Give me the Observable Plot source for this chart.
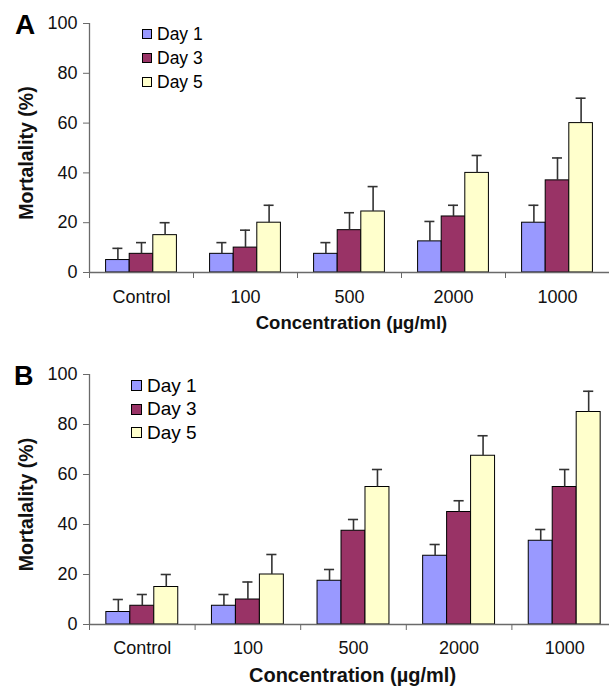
<!DOCTYPE html>
<html>
<head>
<meta charset="utf-8">
<script src="https://cdn.jsdelivr.net/npm/d3@7"></script>
<script src="https://cdn.jsdelivr.net/npm/@observablehq/plot@0.6"></script>
<style>
  body { margin: 0; background: #fff; font-family: "Liberation Sans", Arial, sans-serif; }
  .panel { position: relative; width: 609px; height: 343px; overflow: hidden; }
  .panel svg { position: absolute; left: 0; top: 0; }
  .letter { position: absolute; font-weight: bold; line-height: 1; color: #000; z-index: 2; }
  .legend { position: absolute; z-index: 2; color: #000; }
  .legend .row { display: flex; align-items: center; }
  .legend .sw { box-sizing: border-box; border: 1px solid #000; flex: none; }
</style>
</head>
<body>
<div class="panel" id="pa"></div>
<div class="panel" id="pb"></div>
<script>
// ---- data ----
const concentrations = ["Control", "100", "500", "2000", "1000"];
const days = ["Day 1", "Day 3", "Day 5"];
const dayColors = ["#9999FF", "#993366", "#FFFFCC"];
const yTicks = [0, 20, 40, 60, 80, 100];

// Panel A: mean mortality (%) and error (SD)
const aDay1 = [5, 7.5, 7.5, 12.5, 20];
const aDay3 = [7.5, 10, 17, 22.5, 37];
const aDay5 = [15, 20, 24.5, 40, 60];
const aErr1 = [4.7, 4.5, 4.5, 8, 7];
const aErr3 = [4.5, 7, 7, 4.5, 9];
const aErr5 = [5, 7, 10, 7, 10];

// Panel B
const bDay1 = [5, 7.5, 17.5, 27.5, 33.5];
const bDay3 = [7.5, 10, 37.5, 45, 55];
const bDay5 = [15, 20, 55, 67.5, 85];
const bErr1 = [5, 4.5, 4.5, 4.5, 4.5];
const bErr3 = [4.5, 7, 4.5, 4.5, 7];
const bErr5 = [5, 8, 7, 8, 8.3];

const yTitle = "Mortalality (%)";
const xTitle = "Concentration (\u00b5g/ml)";

// ---- drawing ----
const BAR = 0.227;          // bar width in category units
const CAP = 0.048;          // half cap width in category units
const AXIS = "#6a6a6a";
const INK = "#111";

function buildRows(vals, errs) {
  const rows = [];
  concentrations.forEach((c, i) => days.forEach((d, j) => {
    rows.push({conc: c, day: d, i, j, value: vals[j][i], err: errs[j][i]});
  }));
  return rows;
}

function panel(cfg) {
  const rows = buildRows(cfg.vals, cfg.errs);
  const pad = (1 - days.length * BAR) / 2;
  const left = d => d.i + pad + d.j * BAR;
  const mid = d => left(d) + BAR / 2;
  return Plot.plot({
    width: 609, height: 343,
    marginLeft: 89, marginRight: cfg.marginRight,
    marginTop: cfg.marginTop, marginBottom: cfg.marginBottom,
    style: {fontFamily: "'Liberation Sans', Arial, sans-serif", background: "transparent", color: INK, overflow: "visible"},
    x: {domain: [0, concentrations.length]},
    y: {domain: [0, 100]},
    color: {domain: days, range: dayColors},
    marks: [
      Plot.rectY(rows, {x1: left, x2: d => left(d) + BAR, y1: 0, y2: "value", fill: "day", stroke: "#000", strokeWidth: 1}),
      Plot.ruleX(rows, {x: mid, y1: "value", y2: d => d.value + d.err, stroke: "#333", strokeWidth: 1.6}),
      Plot.ruleY(rows, {y: d => d.value + d.err, x1: d => mid(d) - CAP, x2: d => mid(d) + CAP, stroke: "#333", strokeWidth: 1.6}),
      Plot.ruleY([0], {stroke: AXIS, strokeWidth: 1.3}),
      Plot.ruleX([0], {y1: 0, y2: 100, stroke: AXIS, strokeWidth: 1.3}),
      Plot.axisY({ticks: yTicks, tickSize: 6, tickPadding: 6, fontSize: 18, stroke: AXIS, label: null}),
      Plot.axisX({ticks: d3.range(concentrations.length + 1), tickSize: 6, tickFormat: () => "", stroke: AXIS, label: null}),
      Plot.axisX({ticks: concentrations.map((c, i) => i + 0.5), tickSize: 0, tickPadding: cfg.labelPad,
                  tickFormat: v => concentrations[Math.floor(v)], fontSize: cfg.labelSize, label: null}),
      Plot.text([yTitle], {text: d => d, frameAnchor: "left", rotate: -90, dx: -63, dy: 5,
                           fontWeight: "bold", fontSize: 19.5, textAnchor: "middle", lineAnchor: "middle"}),
      Plot.text([xTitle], {text: d => d, frameAnchor: "bottom", dx: cfg.titleDx, dy: cfg.titleDy,
                           fontWeight: "bold", fontSize: cfg.titleSize, textAnchor: "middle", lineAnchor: "bottom"})
    ]
  });
}

function overlay(el, letter, cfg) {
  const L = document.createElement("div");
  L.className = "letter";
  L.textContent = letter;
  L.style.left = cfg.letterX + "px";
  L.style.top = cfg.letterY + "px";
  L.style.fontSize = cfg.letterSize + "px";
  el.appendChild(L);
  const lg = document.createElement("div");
  lg.className = "legend";
  lg.style.left = cfg.legX + "px";
  lg.style.top = cfg.legY + "px";
  days.forEach((d, k) => {
    const row = document.createElement("div");
    row.className = "row";
    row.style.height = cfg.legRow + "px";
    const sw = document.createElement("div");
    sw.className = "sw";
    sw.style.width = cfg.sw + "px";
    sw.style.height = cfg.sw + "px";
    sw.style.background = dayColors[k];
    const t = document.createElement("span");
    t.textContent = d;
    t.style.fontSize = cfg.legFont + "px";
    t.style.marginLeft = cfg.legGap + "px";
    row.appendChild(sw);
    row.appendChild(t);
    lg.appendChild(row);
  });
  el.appendChild(lg);
}

const pa = document.getElementById("pa");
pa.appendChild(panel({vals: [aDay1, aDay3, aDay5], errs: [aErr1, aErr3, aErr5],
  marginTop: 23, marginBottom: 71, marginRight: 0, labelPad: 18, labelSize: 18,
  titleSize: 18.5, titleDx: 2, titleDy: 56}));
overlay(pa, "A", {letterX: 15, letterY: 11, letterSize: 28, legX: 142, legY: 22, legRow: 24, sw: 10, legFont: 17.5, legGap: 5});

const pb = document.getElementById("pb");
pb.appendChild(panel({vals: [bDay1, bDay3, bDay5], errs: [bErr1, bErr3, bErr5],
  marginTop: 31, marginBottom: 62, marginRight: -8, labelPad: 17, labelSize: 18,
  titleSize: 20, titleDx: -1, titleDy: 57}));
overlay(pb, "B", {letterX: 14, letterY: 20, letterSize: 27, legX: 131, legY: 31, legRow: 23.5, sw: 11, legFont: 19, legGap: 5});
</script>
</body>
</html>
